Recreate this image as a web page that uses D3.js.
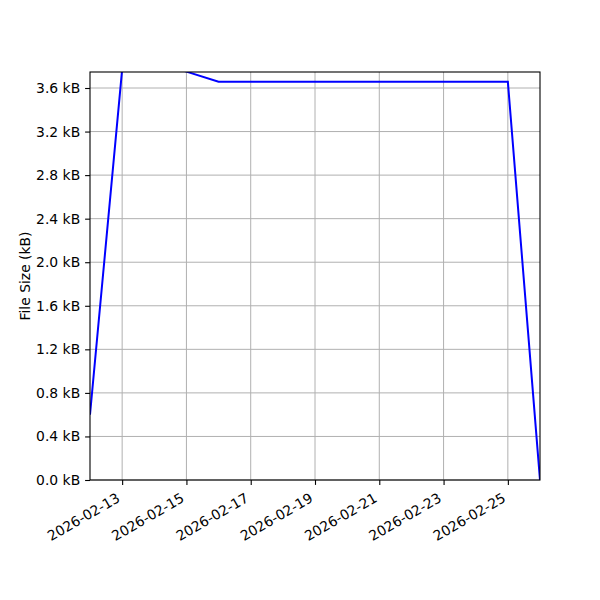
<!DOCTYPE html>
<html>
<head>
<meta charset="utf-8">
<script src="https://cdn.jsdelivr.net/npm/d3@7"></script>
<style>
  body { margin: 0; background: #fff; }
  svg text { font-family: "DejaVu Sans", sans-serif; font-size: 13.9px; fill: #000; }
</style>
</head>
<body>
<div id="chart"></div>
<script>
// data (file size per day, kB)
let dates = ["2026-02-12", "2026-02-13", "2026-02-14", "2026-02-15", "2026-02-16", "2026-02-17",
    "2026-02-18", "2026-02-19", "2026-02-20", "2026-02-21", "2026-02-22", "2026-02-23",
    "2026-02-24", "2026-02-25", "2026-02-26"];
let sizes = [0.6, 3.77, 3.85, 3.75, 3.657, 3.657, 3.657, 3.657, 3.657, 3.657, 3.657, 3.657,
    3.657, 3.657, 0.0];
let yTicks = [0, 0.4, 0.8, 1.2, 1.6, 2.0, 2.4, 2.8, 3.2, 3.6];
let xTickDates = ["2026-02-13", "2026-02-15", "2026-02-17", "2026-02-19", "2026-02-21", "2026-02-23", "2026-02-25"];
let yMax = 3.747;

let parseDate = d3.utcParse("%Y-%m-%d");
let data = dates.map((d, i) => ({date: parseDate(d), value: sizes[i]}));

let margin = {top: 72, right: 60, bottom: 120, left: 90};
let width = 600 - margin.left - margin.right;
let height = 600 - margin.top - margin.bottom;

let svg = d3.select("#chart").append("svg")
    .attr("width", 600)
    .attr("height", 600)
    .append("g")
    .attr("transform", `translate(${margin.left}, ${margin.top})`);

let x = d3.scaleUtc()
    .domain(d3.extent(data, d => d.date))
    .range([0, width]);

let y = d3.scaleLinear()
    .domain([0, yMax])
    .range([height, 0]);

// grid
svg.append("g")
    .selectAll("line.vgrid")
    .data(xTickDates.map(parseDate))
    .enter().append("line")
    .attr("x1", d => x(d)).attr("x2", d => x(d))
    .attr("y1", 0).attr("y2", height)
    .attr("stroke", "#b0b0b0").attr("stroke-width", 1);

svg.append("g")
    .selectAll("line.hgrid")
    .data(yTicks)
    .enter().append("line")
    .attr("x1", 0).attr("x2", width)
    .attr("y1", d => y(d)).attr("y2", d => y(d))
    .attr("stroke", "#b0b0b0").attr("stroke-width", 1);

// clip the line to the plot area
svg.append("clipPath")
    .attr("id", "clip")
    .append("rect")
    .attr("width", width)
    .attr("height", height);

let line = d3.line()
    .x(d => x(d.date))
    .y(d => y(d.value));

svg.append("path")
    .datum(data)
    .attr("clip-path", "url(#clip)")
    .attr("fill", "none")
    .attr("stroke", "#0000ff")
    .attr("stroke-width", 2)
    .attr("d", line);

// axes
let xAxis = d3.axisBottom(x)
    .tickValues(xTickDates.map(parseDate))
    .tickFormat(d3.utcFormat("%Y-%m-%d"))
    .tickSizeInner(4.9).tickSizeOuter(0).tickPadding(4.9);

let yAxis = d3.axisLeft(y)
    .tickValues(yTicks)
    .tickFormat(d => d3.format(".1f")(d) + " kB")
    .tickSizeInner(4.9).tickSizeOuter(0).tickPadding(4.9);

let xg = svg.append("g")
    .attr("transform", `translate(0, ${height})`)
    .call(xAxis);

xg.selectAll("text")
    .attr("text-anchor", "end")
    .attr("x", -7)
    .attr("y", 8.8)
    .attr("dy", null)
    .attr("transform", "translate(0, 9.8) rotate(-30)");

let yg = svg.append("g").call(yAxis);

[xg, yg].forEach(g => {
    g.select(".domain").remove();
    g.selectAll(".tick line").attr("stroke", "#000").attr("stroke-width", 1.1);
    g.selectAll("text").style("font-family", "DejaVu Sans").style("font-size", "13.9px");
});

// frame
svg.append("rect")
    .attr("width", width)
    .attr("height", height)
    .attr("fill", "none")
    .attr("stroke", "#000")
    .attr("stroke-width", 1.1);

svg.append("text")
    .attr("transform", `translate(${-60}, ${height / 2}) rotate(-90)`)
    .attr("text-anchor", "middle")
    .text("File Size (kB)");
</script>
</body>
</html>
